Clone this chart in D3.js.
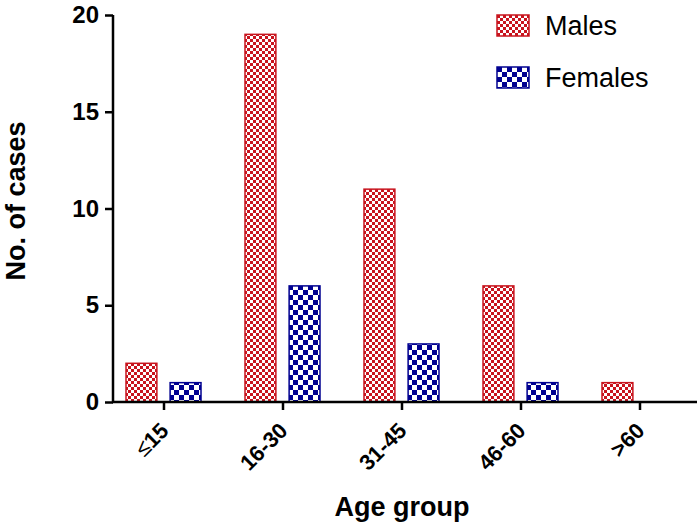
<!DOCTYPE html>
<html>
<head>
<meta charset="utf-8">
<script src="https://cdn.jsdelivr.net/npm/d3@7"></script>
<style>
  body { margin: 0; background: #fff; }
  svg { font-family: "Liberation Sans", Arial, sans-serif; }
</style>
</head>
<body>
<div id="chart"></div>
<script>
// data
var ageGroups = ["\u226415", "16-30", "31-45", "46-60", ">60"];
var series = ["Males", "Females"];
var males = [2, 19, 11, 6, 1];
var females = [1, 6, 3, 1, 0];
var yTicks = [0, 5, 10, 15, 20];

var svgWidth = 700, svgHeight = 527;
var svg = d3.select("#chart").append("svg")
  .attr("width", svgWidth)
  .attr("height", svgHeight);

// patterns
var defs = svg.append("defs");
var pm = defs.append("pattern").attr("id", "pMale")
  .attr("patternUnits", "userSpaceOnUse").attr("width", 6).attr("height", 6);
pm.append("rect").attr("width", 6).attr("height", 6).attr("fill", "#fff");
pm.append("rect").attr("width", 3).attr("height", 3).attr("fill", "#c8141e");
pm.append("rect").attr("x", 3).attr("y", 3).attr("width", 3).attr("height", 3).attr("fill", "#c8141e");
var pf = defs.append("pattern").attr("id", "pFemale")
  .attr("patternUnits", "userSpaceOnUse").attr("width", 10).attr("height", 10);
pf.append("rect").attr("width", 10).attr("height", 10).attr("fill", "#fff");
pf.append("rect").attr("width", 5).attr("height", 5).attr("fill", "#000090");
pf.append("rect").attr("x", 5).attr("y", 5).attr("width", 5).attr("height", 5).attr("fill", "#000090");

var fills = { Males: "url(#pMale)", Females: "url(#pFemale)" };
var strokes = { Males: "#c8141e", Females: "#000090" };

// scales
var x = d3.scaleBand().domain(ageGroups).range([104.5, 699.5]);
var xSub = d3.scaleBand().domain(series).range([-38, 37]).paddingInner(0.3);
var y = d3.scaleLinear().domain([0, 20]).range([402, 15]);

var rows = ageGroups.map(function(g, i) {
  return { group: g, Males: males[i], Females: females[i] };
});

// bars
var groups = svg.selectAll("g.grp")
  .data(rows).enter().append("g")
  .attr("class", "grp")
  .attr("transform", function(d) { return "translate(" + (x(d.group) + x.bandwidth() / 2) + ",0)"; });

groups.selectAll("rect")
  .data(function(d) { return series.map(function(s) { return { key: s, value: d[s] }; }).filter(function(e) { return e.value > 0; }); })
  .enter().append("rect")
  .attr("x", function(d) { return xSub(d.key); })
  .attr("width", xSub.bandwidth())
  .attr("y", function(d) { return y(d.value); })
  .attr("height", function(d) { return y(0) - y(d.value); })
  .attr("fill", function(d) { return fills[d.key]; })
  .attr("stroke", function(d) { return strokes[d.key]; })
  .attr("stroke-width", 1.5);

// y axis
var yAxis = svg.append("g")
  .attr("transform", "translate(113,0)")
  .call(d3.axisLeft(y).tickValues(yTicks).tickSize(8).tickPadding(6));
yAxis.select(".domain").attr("stroke-width", 2.5).attr("d", "M0,15V402");
yAxis.selectAll(".tick line").attr("stroke-width", 2.5);
yAxis.selectAll(".tick text")
  .attr("font-size", 24).attr("font-weight", "bold").attr("fill", "#000")
  .attr("font-family", "Liberation Sans, Arial, sans-serif");

// x axis
var xAxis = svg.append("g")
  .attr("transform", "translate(0,402)")
  .call(d3.axisBottom(x).tickSize(8).tickFormat(""));
xAxis.select(".domain").attr("stroke-width", 2.5).attr("d", "M112,0H697");
xAxis.selectAll(".tick line").attr("stroke-width", 2.5);

var xl = svg.selectAll("text.xlab")
  .data(ageGroups).enter().append("text")
  .attr("class", "xlab")
  .attr("transform", function(d) { return "translate(" + (x(d) + x.bandwidth() / 2 + 6) + ",432) rotate(-45)"; })
  .attr("text-anchor", "end")
  .attr("font-size", 22)
  .attr("font-weight", "bold");
xl.each(function(d) {
  var t = d3.select(this);
  if (d.charAt(0) === "\u2264") {
    t.append("tspan").attr("font-weight", "normal").text(d.charAt(0));
    t.append("tspan").text(d.slice(1));
  } else {
    t.text(d);
  }
});

// axis titles
svg.append("text")
  .attr("transform", "translate(25,201) rotate(-90)")
  .attr("text-anchor", "middle")
  .attr("font-size", 27)
  .attr("font-weight", "bold")
  .text("No. of cases");

svg.append("text")
  .attr("x", 402).attr("y", 516)
  .attr("text-anchor", "middle")
  .attr("font-size", 27)
  .attr("font-weight", "bold")
  .text("Age group");

// legend
var legend = svg.selectAll("g.leg")
  .data(series).enter().append("g")
  .attr("class", "leg")
  .attr("transform", function(d, i) { return "translate(497," + (15 + i * 52) + ")"; });
legend.append("rect")
  .attr("width", 32).attr("height", 21)
  .attr("fill", function(d) { return fills[d]; })
  .attr("stroke", function(d) { return strokes[d]; })
  .attr("stroke-width", 1.5);
legend.append("text")
  .attr("x", 48).attr("y", 20)
  .attr("font-size", 27)
  .text(function(d) { return d; });
</script>
</body>
</html>
